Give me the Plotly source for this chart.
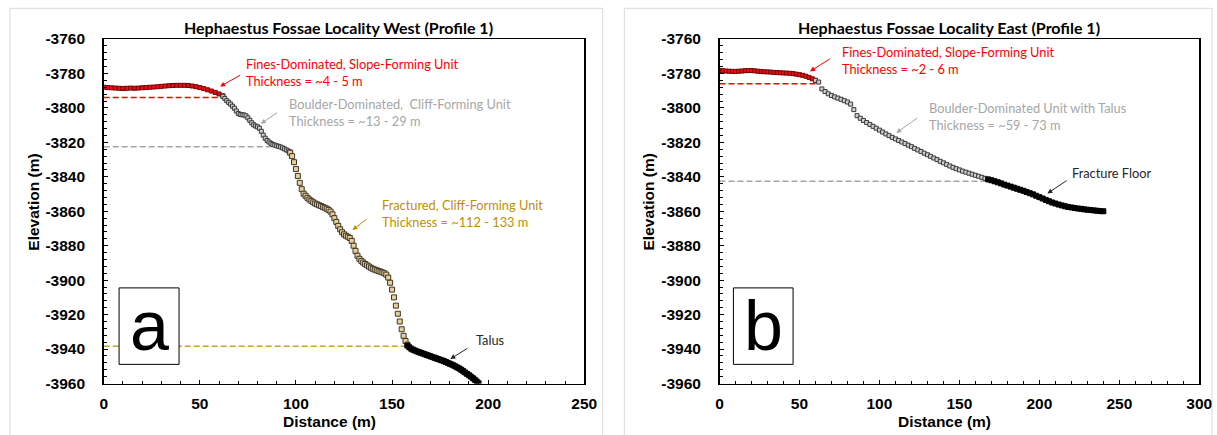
import plotly.graph_objects as go

W, H = 1217, 435

# ---------------- Panel a (West) data ----------------
west_fines_x = [0, 2, 4, 6, 8, 10, 12, 14, 16, 18, 20, 22, 24, 26, 28, 30, 32, 34, 36, 38, 40,
                42, 44, 46, 48, 50, 52, 54, 56, 58, 60, 62]
west_fines_y = [-3788.0, -3788.2, -3788.3, -3788.5, -3788.6, -3788.7, -3788.6, -3788.5, -3788.6,
                -3788.5, -3788.3, -3788.2, -3788.0, -3787.9, -3787.7, -3787.5, -3787.3, -3787.1,
                -3787.0, -3786.9, -3786.9, -3786.9, -3787.0, -3787.3, -3787.7, -3788.2, -3788.8,
                -3789.5, -3790.2, -3791.0, -3791.9, -3793.0]

west_boulder_x = [62, 63, 64, 65, 66, 67, 68, 69, 70, 71, 72, 73, 74, 75, 76, 77, 78, 79, 80, 81,
                  82, 83, 84, 85, 86, 87, 88, 89, 90, 91, 92, 93, 94, 95, 96, 97]
west_boulder_y = [-3793.3, -3794.5, -3795.8, -3796.8, -3797.8, -3799.0, -3800.2, -3801.8, -3803.2,
                  -3803.8, -3804.0, -3804.1, -3804.6, -3805.8, -3807.2, -3808.6, -3809.8, -3810.5,
                  -3811.0, -3811.8, -3813.6, -3815.8, -3817.6, -3818.9, -3819.8, -3820.6, -3821.2,
                  -3821.6, -3822.0, -3822.3, -3822.7, -3823.2, -3823.8, -3824.4, -3825.0, -3825.6]

west_fract_x = [97, 98, 99, 100, 101, 102, 103, 104, 105, 106, 107, 108, 109, 110, 111, 112, 113,
                114, 115, 116, 117, 118, 119, 120, 121, 122, 123, 124, 125, 126, 127, 128, 129,
                130, 131, 132, 133, 134, 135, 136, 137, 138, 139, 140, 141, 142, 143, 144, 145,
                146, 147, 148, 149, 150, 151, 152, 153, 154, 155, 156, 157, 158]
west_fract_y = [-3826.0, -3828.0, -3831.5, -3835.5, -3839.5, -3843.5, -3847.2, -3849.8, -3851.0,
                -3852.2, -3853.2, -3854.0, -3854.8, -3855.5, -3856.0, -3856.5, -3857.0, -3857.5,
                -3858.0, -3858.5, -3859.2, -3860.2, -3861.8, -3864.0, -3866.2, -3868.5, -3870.5,
                -3872.2, -3873.4, -3874.2, -3874.8, -3875.5, -3877.2, -3880.0, -3883.0, -3885.8,
                -3887.6, -3888.8, -3889.8, -3890.6, -3891.4, -3892.1, -3892.8, -3893.4, -3893.9,
                -3894.3, -3894.7, -3895.1, -3895.5, -3896.0, -3896.8, -3898.5, -3901.5, -3905.5,
                -3910.0, -3914.8, -3919.5, -3924.0, -3928.5, -3932.3, -3935.3, -3937.5]

west_talus_x = [158, 159, 160, 161, 162, 163, 164, 165, 166, 167, 168, 169, 170, 171, 172, 173,
                174, 175, 176, 177, 178, 179, 180, 181, 182, 183, 184, 185, 186, 187, 188, 189,
                190, 191, 192, 193, 194, 195]
west_talus_y = [-3938.0, -3939.0, -3939.8, -3940.4, -3940.9, -3941.4, -3941.8, -3942.2, -3942.6,
                -3943.0, -3943.4, -3943.8, -3944.2, -3944.6, -3945.0, -3945.4, -3945.8, -3946.2,
                -3946.6, -3947.0, -3947.5, -3948.0, -3948.5, -3949.0, -3949.5, -3950.1, -3950.7,
                -3951.3, -3952.0, -3952.8, -3953.6, -3954.4, -3955.2, -3956.0, -3956.9, -3957.8,
                -3958.8, -3959.8]

# unit contacts (dashed lines): [x_start, x_end], elevation
west_fines_base_x = [0, 61.5]
west_fines_base_y = [-3794.0, -3794.0]
west_boulder_base_x = [0, 88]
west_boulder_base_y = [-3822.6, -3822.6]
west_fract_base_x = [0, 158]
west_fract_base_y = [-3938.4, -3938.4]

# ---------------- Panel b (East) data ----------------
east_fines_x = [0, 2, 4, 6, 8, 10, 12, 14, 16, 18, 20, 22, 24, 26, 28, 30, 32, 34, 36, 38, 40,
                42, 44, 46, 48, 50, 52, 54, 56, 58, 60]
east_fines_y = [-3778.2, -3778.4, -3778.6, -3778.7, -3778.8, -3778.8, -3778.7, -3778.6, -3778.4,
                -3778.3, -3778.3, -3778.5, -3778.7, -3778.9, -3779.0, -3779.1, -3779.2, -3779.4,
                -3779.5, -3779.6, -3779.7, -3779.8, -3779.9, -3780.1, -3780.4, -3780.7, -3781.1,
                -3781.6, -3782.3, -3783.1, -3784.0]

east_boulder_x = [60, 62, 64, 66, 68, 70, 72, 74, 76, 78, 80, 82, 84, 86, 88, 90, 92, 94, 96, 98,
                  100, 102, 104, 106, 108, 110, 112, 114, 116, 118, 120, 122, 124, 126, 128, 130,
                  132, 134, 136, 138, 140, 142, 144, 146, 148, 150, 152, 154, 156, 158, 160, 162,
                  164, 166, 168]
east_boulder_y = [-3784.0, -3785.0, -3789.0, -3790.5, -3791.8, -3792.8, -3793.6, -3794.3, -3795.0,
                  -3795.8, -3796.6, -3797.8, -3801.0, -3804.5, -3806.0, -3807.3, -3808.5, -3809.6,
                  -3810.7, -3811.8, -3812.9, -3814.0, -3815.1, -3816.1, -3817.1, -3818.0, -3818.9,
                  -3819.8, -3820.7, -3821.6, -3822.5, -3823.5, -3824.4, -3825.3, -3826.3, -3827.2,
                  -3828.1, -3829.1, -3830.0, -3831.0, -3831.9, -3832.8, -3833.7, -3834.5, -3835.3,
                  -3836.0, -3836.7, -3837.3, -3837.9, -3838.5, -3839.1, -3839.7, -3840.3, -3840.9,
                  -3841.5]

east_floor_x = [168, 170, 172, 174, 176, 178, 180, 182, 184, 186, 188, 190, 192, 194, 196, 198,
                200, 202, 204, 206, 208, 210, 212, 214, 216, 218, 220, 222, 224, 226, 228, 230,
                232, 234, 236, 238, 240]
east_floor_y = [-3841.5, -3842.0, -3842.6, -3843.2, -3843.8, -3844.5, -3845.1, -3845.7, -3846.3,
                -3846.9, -3847.5, -3848.1, -3848.8, -3849.5, -3850.2, -3851.0, -3851.8, -3852.6,
                -3853.4, -3854.2, -3854.9, -3855.5, -3856.1, -3856.6, -3857.1, -3857.5, -3857.8,
                -3858.1, -3858.4, -3858.6, -3858.9, -3859.1, -3859.3, -3859.5, -3859.7, -3859.9,
                -3860.0]

east_fines_base_x = [0, 60.5]
east_fines_base_y = [-3786.0, -3786.0]
east_boulder_base_x = [0, 167]
east_boulder_base_y = [-3842.6, -3842.6]

# ---------------- Ticks & text ----------------
y_tick_vals = [-3960, -3940, -3920, -3900, -3880, -3860, -3840, -3820, -3800, -3780, -3760]
y_tick_text = ["-3960", "-3940", "-3920", "-3900", "-3880", "-3860", "-3840", "-3820", "-3800",
               "-3780", "-3760"]
xa_tick_vals = [0, 50, 100, 150, 200, 250]
xb_tick_vals = [0, 50, 100, 150, 200, 250, 300]

titles = ["Hephaestus Fossae Locality West (Profile 1)", "Hephaestus Fossae Locality East (Profile 1)"]
x_title = "Distance (m)"
y_title = "Elevation (m)"
panel_letters = ["a", "b"]

RED = "#ff0000"
GRAY = "#a6a6a6"
GOLD = "#bf9000"
DARK = "#262626"


def px(x):
    return x / W


def py(y):
    return 1 - y / H


fig = go.Figure()


def dashed(x, y, color, xa, ya):
    fig.add_trace(go.Scatter(x=x, y=y, mode="lines", xaxis=xa, yaxis=ya,
                             line=dict(color=color, width=1.5, dash="6px,3px"),
                             showlegend=False, hoverinfo="skip"))


def pts(x, y, size, fill, edge, xa, ya, ew=1):
    fig.add_trace(go.Scatter(x=x, y=y, mode="markers", xaxis=xa, yaxis=ya,
                             marker=dict(symbol="square", size=size, color=fill,
                                         line=dict(color=edge, width=ew)),
                             showlegend=False))


# Panel a
dashed(west_fines_base_x, west_fines_base_y, RED, "x", "y")
dashed(west_boulder_base_x, west_boulder_base_y, GRAY, "x", "y")
dashed(west_fract_base_x, west_fract_base_y, "#c9a227", "x", "y")
pts(west_fines_x, west_fines_y, 4, "#e0101a", "#7a0000", "x", "y")
pts(west_boulder_x, west_boulder_y, 4, "#d0d0d0", "#383838", "x", "y")
pts(west_fract_x, west_fract_y, 5, "#e8d09c", "#3d3528", "x", "y")
pts(west_talus_x, west_talus_y, 5, "#000000", "#000000", "x", "y")

# Panel b
dashed(east_fines_base_x, east_fines_base_y, RED, "x2", "y2")
dashed(east_boulder_base_x, east_boulder_base_y, GRAY, "x2", "y2")
pts(east_fines_x, east_fines_y, 4, "#e0101a", "#7a0000", "x2", "y2")
pts(east_boulder_x, east_boulder_y, 4, "#d0d0d0", "#383838", "x2", "y2")
pts(east_floor_x, east_floor_y, 5, "#000000", "#000000", "x2", "y2")

tickfont = dict(family="Liberation Sans", size=15.5, color="#000000")


def xaxis_cfg(dom, rng, vals):
    return dict(domain=dom, range=rng, tickmode="array", tickvals=vals,
                ticktext=["<b>%d</b>" % v for v in vals],
                showgrid=False, zeroline=False, automargin=False,
                showline=True, linecolor="#000000", linewidth=1.5, mirror=True,
                ticks="inside", ticklen=4, tickwidth=1, tickcolor="#000000",
                minor=dict(dtick=10, tick0=0, ticks="inside", ticklen=3, tickwidth=1,
                           tickcolor="#000000", showgrid=False),
                tickfont=tickfont, ticklabelstandoff=5, fixedrange=True)


def yaxis_cfg(dom, anchor):
    return dict(domain=dom, range=[-3960, -3760], tickmode="array", tickvals=y_tick_vals,
                ticktext=["<b>%s</b>" % t for t in y_tick_text], anchor=anchor,
                showgrid=False, zeroline=False, automargin=False,
                showline=True, linecolor="#000000", linewidth=1.5, mirror=True,
                ticks="inside", ticklen=4, tickwidth=1, tickcolor="#000000",
                minor=dict(dtick=4, tick0=-3960, ticks="inside", ticklen=3, tickwidth=1,
                           tickcolor="#000000", showgrid=False),
                tickfont=tickfont, ticklabelstandoff=14, fixedrange=True)


ydom = [py(383.5), py(39)]
fig.update_layout(
    width=W, height=H, margin=dict(l=0, r=0, t=0, b=0, autoexpand=False),
    paper_bgcolor="white", plot_bgcolor="white",
    xaxis=dict(**xaxis_cfg([px(103.7), px(584.3)], [0, 250], xa_tick_vals), anchor="y"),
    yaxis=yaxis_cfg(ydom, "x"),
    xaxis2=dict(**xaxis_cfg([px(719.5), px(1199.3)], [0, 300], xb_tick_vals), anchor="y2"),
    yaxis2=yaxis_cfg(ydom, "x2"),
)

# Panel borders (chart areas)
for x0, x1 in [(10, 602.7), (624.3, 1212)]:
    fig.add_shape(type="rect", xref="paper", yref="paper", x0=px(x0), x1=px(x1),
                  y0=-0.05, y1=py(8.3), line=dict(color="#d9d9d9", width=1),
                  fillcolor="rgba(0,0,0,0)", layer="below")

# Titles and axis titles
title_font = dict(family="Lato", size=16, color="#000000")
axt_font = dict(family="Liberation Sans", size=15.5, color="#000000")
for cx, t in [(338, titles[0]), (948.7, titles[1])]:
    fig.add_annotation(x=px(cx), y=py(27), xref="paper", yref="paper", text="<b>%s</b>" % t,
                       showarrow=False, font=title_font, xanchor="center", yanchor="middle")
for cx in [329, 944.4]:
    fig.add_annotation(x=px(cx), y=py(421), xref="paper", yref="paper",
                       text="<b>%s</b>" % x_title,
                       showarrow=False, font=axt_font, xanchor="center", yanchor="middle")
for cx in [33.2, 648]:
    fig.add_annotation(x=px(cx), y=py(202.5), xref="paper", yref="paper",
                       text="<b>%s</b>" % y_title,
                       textangle=-90, showarrow=False, font=axt_font,
                       xanchor="center", yanchor="middle")

# Panel letter boxes
letter_font = dict(family="Liberation Sans", size=70, color="#000000")
for xr, yr, x0, x1, letter in [("x", "y", 8.0, 39.2, panel_letters[0]),
                               ("x2", "y2", 8.7, 46.0, panel_letters[1])]:
    fig.add_shape(type="rect", xref=xr, yref=yr, x0=x0, x1=x1, y0=-3948.9, y1=-3904.5,
                  line=dict(color="#000000", width=1), fillcolor="white")
    fig.add_annotation(x=(x0 + x1) / 2, y=-3926.7, xref=xr, yref=yr, text=letter,
                       showarrow=False, font=letter_font, xanchor="center", yanchor="middle")

# Unit labels and arrows
lab_font = "Lato"
labels = [
    # xref, yref, x, y, text, color, head(x,y), tail(x,y)
    ("x", "y", 72.9, -3779.4, "Fines-Dominated, Slope-Forming Unit<br>Thickness = ~4 - 5 m", RED,
     (60.5, -3787.6), (71.8, -3780.5)),
    ("x", "y", 95.1, -3802.6, "Boulder-Dominated,  Cliff-Forming Unit<br>Thickness = ~13 - 29 m", GRAY,
     (81.7, -3809.2), (91.0, -3802.2)),
    ("x", "y", 143.8, -3861.5, "Fractured, Cliff-Forming Unit<br>Thickness = ~112 - 133 m", GOLD,
     (129.4, -3870.9), (137.5, -3864.0)),
    ("x", "y", 192.6, -3934.7, "Talus", DARK,
     (180.3, -3945.8), (190.0, -3939.0)),
    ("x2", "y2", 75.3, -3772.7, "Fines-Dominated, Slope-Forming Unit<br>Thickness = ~2 - 6 m", RED,
     (56.6, -3778.8), (69.9, -3771.0)),
    ("x2", "y2", 130.0, -3805.2, "Boulder-Dominated Unit with Talus<br>Thickness = ~59 - 73 m", GRAY,
     (110.5, -3814.5), (124.6, -3805.3)),
    ("x2", "y2", 219.3, -3838.0, "Fracture Floor", DARK,
     (205.0, -3849.7), (218.0, -3841.6)),
]
for xr, yr, tx, ty, text, col, head, tail in labels:
    fig.add_annotation(x=tx, y=ty, xref=xr, yref=yr, text=text, showarrow=False,
                       font=dict(family=lab_font, size=12.8, color=col),
                       xanchor="left", yanchor="middle", align="left")
    fig.add_annotation(x=head[0], y=head[1], ax=tail[0], ay=tail[1], xref=xr, yref=yr,
                       axref=xr, ayref=yr, text="", showarrow=True, arrowhead=2,
                       arrowsize=1, arrowwidth=1, arrowcolor=col, standoff=0)

# Remove the default page margin so the 1217x435 figure fills the window exactly.
fig.write_html("out.html",
               config={"displayModeBar": False, "staticPlot": True},
               post_script="document.body.style.margin='0';document.body.style.overflow='hidden';")
